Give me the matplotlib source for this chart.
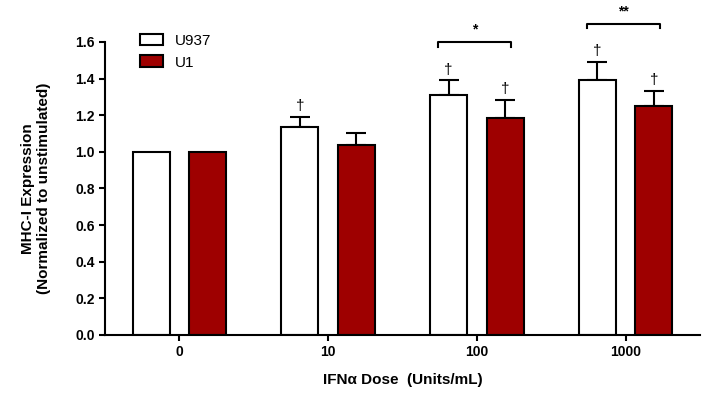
import numpy as np
import matplotlib.pyplot as plt
from matplotlib.patches import Patch

plt.rcParams['font.family'] = ['Liberation Sans', 'DejaVu Sans']

doses = ['0', '10', '100', '1000']
u937 = [1.00, 1.135, 1.31, 1.39]
u937_err = [0.0, 0.055, 0.08, 0.10]
u1 = [1.00, 1.037, 1.185, 1.25]
u1_err = [0.0, 0.065, 0.10, 0.085]
u937_dagger = [False, True, True, True]
u1_dagger = [False, False, True, True]
# significance brackets: (group index, y level, label)
sig = [(2, 1.60, '*'), (3, 1.70, '**')]

red = '#9E0000'
x = np.arange(len(doses))
w = 0.25
off = 0.19

fig = plt.figure(figsize=(7.12, 3.96), dpi=100)
ax = fig.add_axes([105 / 712, 1 - 335 / 396, 595 / 712, 293 / 396])

ax.bar(x - off, u937, w, color='white', edgecolor='black', linewidth=1.5, zorder=2)
ax.bar(x + off, u1, w, color=red, edgecolor='black', linewidth=1.5, zorder=2)
for xs, vals, errs in [(x - off, u937, u937_err), (x + off, u1, u1_err)]:
    for xi, v, e in zip(xs, vals, errs):
        if e > 0:
            ax.errorbar(xi, v, yerr=[[0], [e]], color='black', capsize=7,
                        elinewidth=1.5, capthick=1.5, zorder=1)

for xi, v, e, d in zip(x - off, u937, u937_err, u937_dagger):
    if d:
        ax.text(xi, v + e + 0.02, '\u2020', ha='center', va='bottom', fontsize=11, clip_on=False)
for xi, v, e, d in zip(x + off, u1, u1_err, u1_dagger):
    if d:
        ax.text(xi, v + e + 0.02, '\u2020', ha='center', va='bottom', fontsize=11, clip_on=False)

for g, yb, lab in sig:
    x0, x1 = g - 0.26, g + 0.23
    ax.plot([x0, x0, x1, x1], [yb - 0.025, yb, yb, yb - 0.025], color='black',
            lw=1.5, clip_on=False)
    ax.text((x0 + x1) / 2, yb + 0.03, lab, ha='center', va='bottom', fontsize=10,
            fontweight='bold', clip_on=False)

ax.set_xlim(-0.5, 3.5)
ax.set_ylim(0, 1.6)
ax.set_xticks(x)
ax.set_xticklabels(doses, fontweight='bold', fontsize=10)
ax.set_yticks(np.arange(0, 1.61, 0.2))
ax.set_yticklabels(['%.1f' % v for v in np.arange(0, 1.61, 0.2)], fontweight='bold', fontsize=10)
ax.spines['top'].set_visible(False)
ax.spines['right'].set_visible(False)
ax.spines['left'].set_linewidth(1.5)
ax.spines['bottom'].set_linewidth(1.5)
ax.tick_params(width=1.5, length=4)
ax.set_xlabel('IFN\u03b1 Dose  (Units/mL)', fontweight='bold', fontsize=11, labelpad=10)
ax.set_ylabel('MHC-I Expression\n(Normalized to unstimulated)', fontweight='bold',
              fontsize=11, labelpad=17)

handles = [Patch(facecolor='white', edgecolor='black', linewidth=1.5, label='U937'),
           Patch(facecolor=red, edgecolor='black', linewidth=1.5, label='U1')]
fig.legend(handles=handles, loc='upper left', bbox_to_anchor=(132 / 712, 1 - 26 / 396),
           frameon=False, fontsize=11, handlelength=1.5, handleheight=0.8,
           borderpad=0, labelspacing=0.5, handletextpad=0.8)

fig.savefig('out.png', dpi=100)
